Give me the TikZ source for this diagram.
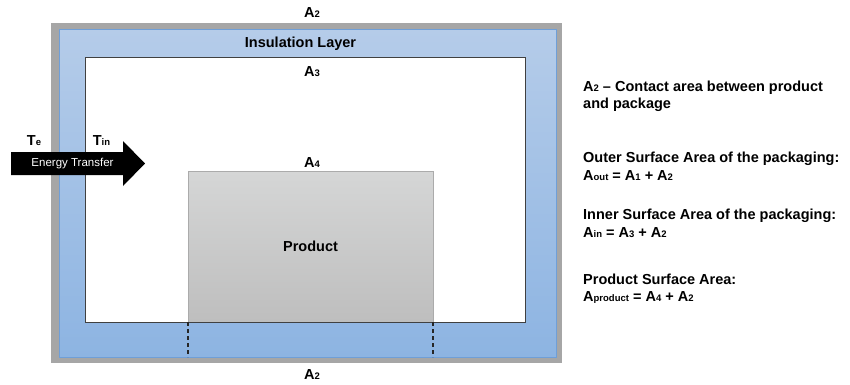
\documentclass[tikz,border=0pt]{standalone}
\usepackage{fontspec}
\setmainfont{Liberation Sans}
\usetikzlibrary{positioning}
\definecolor{shellgray}{HTML}{A6A6A6}
\definecolor{layertop}{HTML}{B5CCE9}
\definecolor{layerbot}{HTML}{8DB4E2}
\definecolor{layerline}{HTML}{6F9FD8}
\definecolor{prodtop}{HTML}{D5D6D6}
\definecolor{prodbot}{HTML}{BEBEBE}
\newcommand{\sbs}[1]{\raisebox{-0.6pt}{\fontsize{9.5}{10}\selectfont#1}}
\newcommand{\Ar}[1]{A\sbs{#1}}
\begin{document}
\begin{tikzpicture}[x=1pt,y=-1pt,
  box/.style={rectangle,inner sep=0pt,outer sep=0pt},
  shell/.style={box,fill=shellgray},
  layer/.style={box,top color=layertop,bottom color=layerbot,draw=layerline,line width=0.8pt},
  cavity/.style={box,fill=white,draw=black!75,line width=0.9pt},
  prod/.style={box,top color=prodtop,bottom color=prodbot,draw=prodbot!90!black,line width=0.8pt,font=\bfseries\fontsize{14.5}{17}\selectfont},
  lbl/.style={font=\bfseries\fontsize{14.5}{17}\selectfont,inner sep=0pt,anchor=base},
  note/.style={lbl,anchor=base west},
  cut/.style={draw=black!85,line width=1.4pt,dash pattern=on 4pt off 3pt}]
\useasboundingbox (0,0) rectangle (850,384);
\node[shell,minimum width=511pt,minimum height=340pt] (case) at (306.5,193) {};
\node[layer,minimum width=497pt,minimum height=328pt] (ins) at (307.5,193) {};
\node[cavity,minimum width=440pt,minimum height=265pt] (cav) at (305,189.5) {};
\node[prod,minimum width=245pt,minimum height=151pt] (prod) at (310.5,246.5) {Product};
\draw[black!75,line width=0.9pt] (cav.south west) -- (cav.south east);
\coordinate (cutl) at (prod.south west |- ins.south);
\coordinate (cutr) at (prod.south east |- ins.south);
\draw[cut] (prod.south west) -- (cutl);
\draw[cut] (prod.south east) -- (cutr);
\fill[black] (11,152) -- (123,152) -- (123,141) -- (145,163.5) -- (123,186) -- (123,175) -- (11,175) -- cycle;
\node[inner sep=0pt,text=white,font=\fontsize{11.5}{13}\selectfont] (flow) at (72.5,163.5) {Energy Transfer};
\node[lbl] (te) at (34,145) {T\sbs{e}};
\node[lbl] (tin) at (101.5,145) {T\sbs{in}};
\node[lbl] (atop) at (312,17) {\Ar{2}};
\node[lbl] (inslbl) at (300.5,47) {Insulation Layer};
\node[lbl] (athree) at (312,76) {\Ar{3}};
\node[lbl] (afour) at (312,167) {\Ar{4}};
\node[lbl] (abot) at (312,379) {\Ar{2}};
\node[note] (n1a) at (583,91) {\Ar{2} -- Contact area between product};
\node[note] (n1b) at (583,108) {and package};
\node[note] (n2a) at (583,162) {Outer Surface Area of the packaging:};
\node[note] (n2b) at (583,180) {\Ar{out} = \Ar{1} + \Ar{2}};
\node[note] (n3a) at (583,219) {Inner Surface Area of the packaging:};
\node[note] (n3b) at (583,237) {\Ar{in} = \Ar{3} + \Ar{2}};
\node[note] (n4a) at (583,284) {Product Surface Area:};
\node[note] (n4b) at (583,301) {\Ar{product} = \Ar{4} + \Ar{2}};
\end{tikzpicture}
\end{document}
